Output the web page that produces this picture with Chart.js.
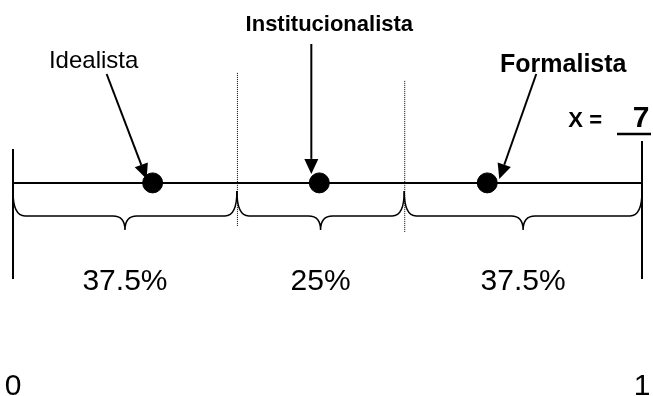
<!DOCTYPE HTML>
<html>
<head>
   <title>Escala</title>
   <script src="https://cdn.jsdelivr.net/npm/chart.js"></script>
   <style>
     body { margin: 0; background: #ffffff; }
     #wrap { width: 653px; height: 396px; }
   </style>
</head>
<body>
  <div id="wrap"><canvas id="myChart"></canvas></div>
  <script type="text/javascript">
    // data
    var names = ["Idealista", "Institucionalista", "Formalista"];
    var positions = [0.222, 0.487, 0.754];
    var bounds = [0, 0.356, 0.622, 1];
    var shares = ["37.5%", "25%", "37.5%"];
    var endLabels = ["0", "1"];
    var xValue = "7";

    var lineY = 182;   // row of the axis line (y scale runs in pixel rows)
    var font = "'Liberation Sans', Arial, sans-serif";

    function arrow(c, x1, y1, x2, y2) {
      var a = Math.atan2(y2 - y1, x2 - x1);
      var len = 15, w = 7;
      var bx = x2 - len * Math.cos(a), by = y2 - len * Math.sin(a);
      c.beginPath();
      c.moveTo(x1, y1);
      c.lineTo(bx, by);
      c.lineWidth = 2;
      c.strokeStyle = '#000';
      c.stroke();
      c.beginPath();
      c.moveTo(x2, y2);
      c.lineTo(bx + w * Math.sin(a), by - w * Math.cos(a));
      c.lineTo(bx - w * Math.sin(a), by + w * Math.cos(a));
      c.closePath();
      c.fillStyle = '#000';
      c.fill();
    }

    function brace(c, xa, xb, y0, y1, tip) {
      var xm = (xa + xb) / 2, r = 12;
      c.beginPath();
      c.moveTo(xa, y0);
      c.quadraticCurveTo(xa, y1, xa + r, y1);
      c.lineTo(xm - r, y1);
      c.quadraticCurveTo(xm, y1, xm, tip);
      c.quadraticCurveTo(xm, y1, xm + r, y1);
      c.lineTo(xb - r, y1);
      c.quadraticCurveTo(xb, y1, xb, y0);
      c.lineWidth = 1.5;
      c.strokeStyle = '#000';
      c.stroke();
    }

    var scalePlugin = {
      id: 'scalePlugin',
      beforeDatasetsDraw: function (chart) {
        var c = chart.ctx;
        var xs = chart.scales['x'], ys = chart.scales['y'];
        var y = ys.getPixelForValue(lineY);
        c.save();
        // end ticks
        c.lineWidth = 2;
        c.strokeStyle = '#000';
        c.beginPath();
        c.moveTo(xs.getPixelForValue(bounds[0]), y - 34);
        c.lineTo(xs.getPixelForValue(bounds[0]), y + 96);
        c.moveTo(xs.getPixelForValue(bounds[3]), y - 42);
        c.lineTo(xs.getPixelForValue(bounds[3]), y + 96);
        c.stroke();
        // dotted dividers
        c.lineWidth = 1;
        c.setLineDash([1, 1]);
        c.beginPath();
        c.moveTo(xs.getPixelForValue(bounds[1]) + 0.5, y - 110);
        c.lineTo(xs.getPixelForValue(bounds[1]) + 0.5, y + 43);
        c.moveTo(xs.getPixelForValue(bounds[2]) + 0.5, y - 102);
        c.lineTo(xs.getPixelForValue(bounds[2]) + 0.5, y + 50);
        c.stroke();
        c.setLineDash([]);
        // braces and shares
        c.font = "30px " + font;
        c.fillStyle = '#000';
        c.textAlign = 'center';
        c.textBaseline = 'alphabetic';
        for (var i = 0; i < shares.length; i++) {
          var xa = xs.getPixelForValue(bounds[i]);
          var xb = xs.getPixelForValue(bounds[i + 1]);
          brace(c, xa, xb, y + 8, y + 33, y + 47);
          c.fillText(shares[i], (xa + xb) / 2, y + 107);
        }
        // end labels
        c.fillText(endLabels[0], xs.getPixelForValue(0), 395);
        c.fillText(endLabels[1], xs.getPixelForValue(1), 395);
        c.restore();
      },
      afterDatasetsDraw: function (chart) {
        var c = chart.ctx;
        var xs = chart.scales['x'], ys = chart.scales['y'];
        var y = ys.getPixelForValue(lineY);
        c.save();
        c.fillStyle = '#000';
        c.textAlign = 'center';
        c.textBaseline = 'alphabetic';
        var p0 = xs.getPixelForValue(positions[0]);
        var p1 = xs.getPixelForValue(positions[1]);
        var p2 = xs.getPixelForValue(positions[2]);
        // Idealista
        c.font = "24px " + font;
        c.fillText(names[0], p0 - 59, 68);
        arrow(c, p0 - 46, 74, p0 - 6, y - 4);
        // Institucionalista
        c.font = "bold 22px " + font;
        c.fillText(names[1], p1 + 10, 31);
        arrow(c, p1 - 8, 44, p1 - 8, y - 9);
        // Formalista
        c.font = "bold 25px " + font;
        c.fillText(names[2], p2 + 76, 72);
        arrow(c, p2 + 49, 74, p2 + 12, y - 4);
        // X = 7
        c.font = "bold 22px " + font;
        c.textAlign = 'right';
        c.fillText("X =", 602, 127);
        c.font = "bold 30px " + font;
        c.textAlign = 'center';
        c.fillText(xValue, 641, 127);
        c.lineWidth = 2.5;
        c.beginPath();
        c.moveTo(617, 134);
        c.lineTo(651, 134);
        c.stroke();
        c.restore();
      }
    };

    var ctx = document.getElementById('myChart');
    var myChart = new Chart(ctx, {
      type: 'scatter',
      data: {
        datasets: [
          {
            type: 'line',
            data: [{ x: bounds[0], y: lineY }, { x: bounds[3], y: lineY }],
            borderColor: '#000',
            borderWidth: 2,
            pointRadius: 0
          },
          {
            data: positions.map(function (p) { return { x: p, y: lineY }; }),
            backgroundColor: '#000',
            borderColor: '#000',
            pointRadius: 10
          }
        ]
      },
      options: {
        responsive: true,
        maintainAspectRatio: false,
        animation: false,
        layout: { padding: { left: 13, right: 10, top: 0, bottom: 0 } },
        scales: {
          x: { type: 'linear', min: 0, max: 1, display: false },
          y: { min: 0, max: 396, reverse: true, display: false }
        },
        plugins: {
          legend: { display: false },
          tooltip: { enabled: false }
        }
      },
      plugins: [scalePlugin]
    });
  </script>
</body>
</html>
